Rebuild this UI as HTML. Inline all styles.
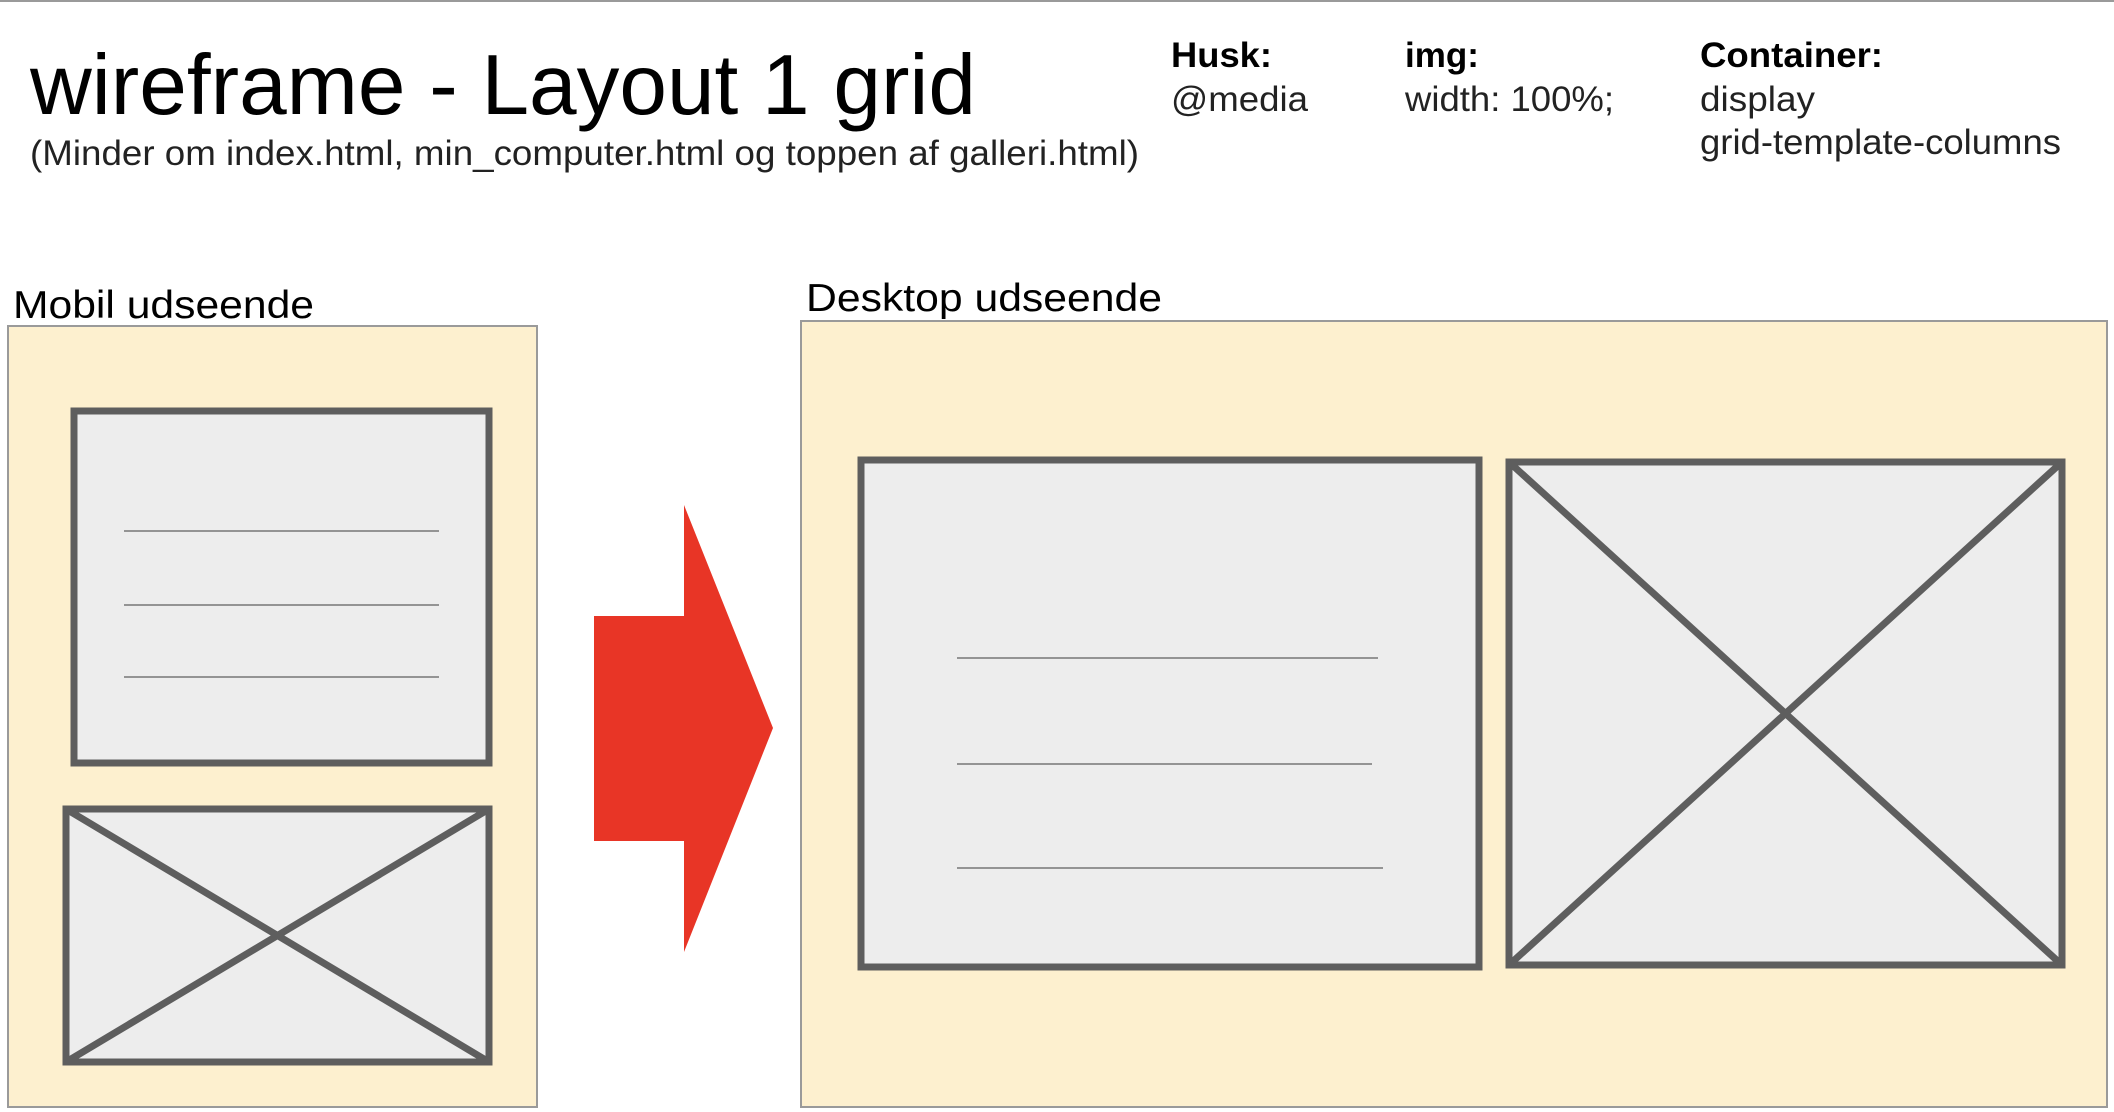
<!DOCTYPE html>
<html><head><meta charset="utf-8"><style>
html,body{margin:0;padding:0;background:#fff;}
svg{display:block;font-family:"Liberation Sans",Arial,sans-serif;}
</style></head><body>
<svg width="2114" height="1112" viewBox="0 0 2114 1112">
<line x1="0" y1="1" x2="2114" y2="1" stroke="#9a9a9a" stroke-width="2"/>
<text x="30" y="114" font-size="85" fill="#000" textLength="946" lengthAdjust="spacingAndGlyphs">wireframe - Layout 1 grid</text>
<text x="30" y="165" font-size="35" fill="#222" textLength="1109" lengthAdjust="spacingAndGlyphs">(Minder om index.html, min_computer.html og toppen af galleri.html)</text>
<g font-size="35" fill="#222">
<text x="1171" y="67" font-weight="bold" fill="#000" textLength="101" lengthAdjust="spacingAndGlyphs">Husk:</text>
<text x="1171" y="111" textLength="137" lengthAdjust="spacingAndGlyphs">@media</text>
<text x="1405" y="67" font-weight="bold" fill="#000">img:</text>
<text x="1405" y="111" textLength="209" lengthAdjust="spacingAndGlyphs">width: 100%;</text>
<text x="1700" y="67" font-weight="bold" fill="#000" textLength="183" lengthAdjust="spacingAndGlyphs">Container:</text>
<text x="1700" y="111" textLength="115" lengthAdjust="spacingAndGlyphs">display</text>
<text x="1700" y="154" textLength="361" lengthAdjust="spacingAndGlyphs">grid-template-columns</text>
</g>
<text x="13" y="318" font-size="39" fill="#000" textLength="301" lengthAdjust="spacingAndGlyphs">Mobil udseende</text>
<text x="806" y="311" font-size="39" fill="#000" textLength="356" lengthAdjust="spacingAndGlyphs">Desktop udseende</text>
<rect x="8" y="326" width="529" height="781" fill="#fdf0cf" stroke="#9a9a9a" stroke-width="2"/>
<rect x="801" y="321" width="1306" height="786" fill="#fdf0cf" stroke="#9a9a9a" stroke-width="2"/>
<g stroke="#5e5e5e" stroke-width="7" fill="#ededed">
<rect x="74" y="411" width="415" height="352"/>
<rect x="66" y="809" width="423" height="253"/>
<rect x="861" y="460" width="618" height="507"/>
<rect x="1509" y="462" width="553" height="503"/>
<path d="M66 809 L489 1062 M489 809 L66 1062"/>
<path d="M1509 462 L2062 965 M2062 462 L1509 965"/>
</g>
<g stroke="#777" stroke-width="1.6">
<line x1="124" y1="531" x2="439" y2="531"/>
<line x1="124" y1="605" x2="439" y2="605"/>
<line x1="124" y1="677" x2="439" y2="677"/>
<line x1="957" y1="658" x2="1378" y2="658"/>
<line x1="957" y1="764" x2="1372" y2="764"/>
<line x1="957" y1="868" x2="1383" y2="868"/>
</g>
<polygon points="594,616 684,616 684,505 773,728 684,952 684,841 594,841" fill="#e83526"/>
</svg>
</body></html>
